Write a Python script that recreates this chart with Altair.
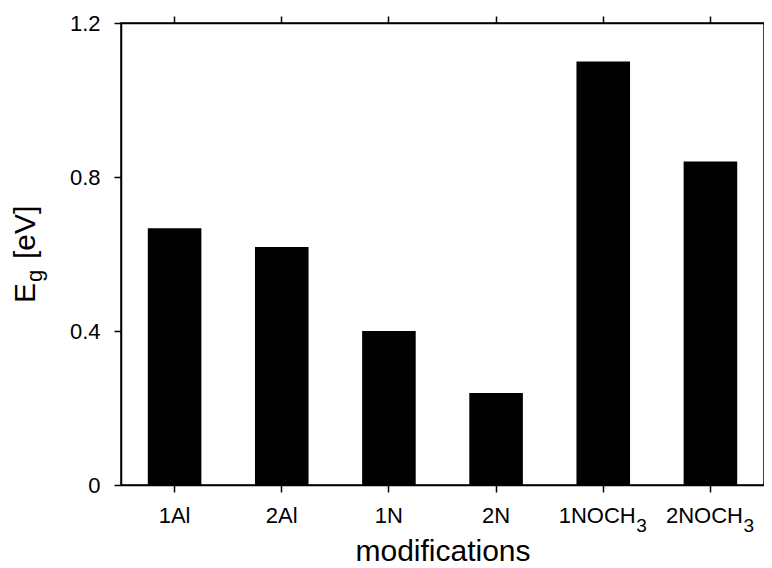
import altair as alt
import pandas as pd

categories = ["1Al", "2Al", "1N", "2N", "1NOCH3", "2NOCH3"]
main_labels = ["1Al", "2Al", "1N", "2N", "1NOCH", "2NOCH"]
sub_labels = ["", "", "", "", "3", "3"]
gap_ev = [0.667, 0.618, 0.400, 0.239, 1.100, 0.840]
y_ticks = [0, 0.4, 0.8, 1.2]
y_title_parts = ["E", "g", "[eV]"]
x_title = "modifications"

FONT = "Liberation Sans"

df = pd.DataFrame({"mod": categories, "eg": gap_ev,
                   "main": main_labels, "sub": sub_labels})

xscale = alt.Scale(paddingInner=0.5, paddingOuter=0.25)
yscale = alt.Scale(domain=[0, 1.2], nice=False, zero=True)

bars = alt.Chart(df).mark_bar(color="black").encode(
    x=alt.X("mod:N", sort=categories, scale=xscale,
            axis=alt.Axis(orient="bottom", title=x_title, labels=False,
                          titleY=75, titleBaseline="alphabetic",
                          titleFontSize=30, titleFontWeight="normal")),
    y=alt.Y("eg:Q", scale=yscale,
            axis=alt.Axis(orient="left", title=None, values=y_ticks,
                          format=".1~f", labelPadding=14)),
)

top_axis = alt.Chart(df).mark_bar(opacity=0).encode(
    x=alt.X("mod:N", sort=categories, scale=xscale,
            axis=alt.Axis(orient="top", title=None, labels=False)),
    y=alt.Y("eg:Q", scale=yscale),
)

def xlab(cond, field, dx, py, size, align):
    return alt.Chart(df).transform_filter(cond).mark_text(
        align=align, baseline="alphabetic", dx=dx,
        font=FONT, fontSize=size, color="black"
    ).encode(
        x=alt.X("mod:N", sort=categories, scale=xscale, axis=None),
        y=alt.value(py),
        text=f"{field}:N",
    )

lab_plain = xlab(alt.datum.sub == "", "main", 0, 500, 22, "center")
lab_main = xlab(alt.datum.sub != "", "main", -6, 500, 22, "center")
lab_sub = xlab(alt.datum.sub != "", "sub", 33, 509, 19, "left")

tdf = pd.DataFrame({"t": y_title_parts})

def part(i, px, py, size):
    return alt.Chart(tdf).transform_filter(
        alt.datum.t == y_title_parts[i]
    ).mark_text(angle=270, align="left", baseline="alphabetic",
                font=FONT, fontSize=size, color="black").encode(
        text="t:N", x=alt.value(px), y=alt.value(py)
    )

t_e = part(0, -86, 280, 30)
t_g = part(1, -79, 259, 22)
t_ev = part(2, -86, 236, 30)

chart = alt.layer(bars, top_axis, lab_plain, lab_main, lab_sub,
                  t_e, t_g, t_ev).resolve_axis(
    x="independent"
).properties(
    width=643, height=462,
    autosize=alt.AutoSizeParams(type="none"),
    padding={"left": 113, "top": 15, "right": 0, "bottom": 83},
).configure_view(
    stroke="black", strokeWidth=1.5
).configure_axis(
    grid=False, labelFont=FONT, titleFont=FONT, labelFontSize=22,
    labelColor="black", titleColor="black", domainColor="black",
    tickColor="black", domainWidth=1.5, tickWidth=1.5, tickSize=7,
)

chart.save("out.html", embed_options={"renderer": "svg", "actions": False})
